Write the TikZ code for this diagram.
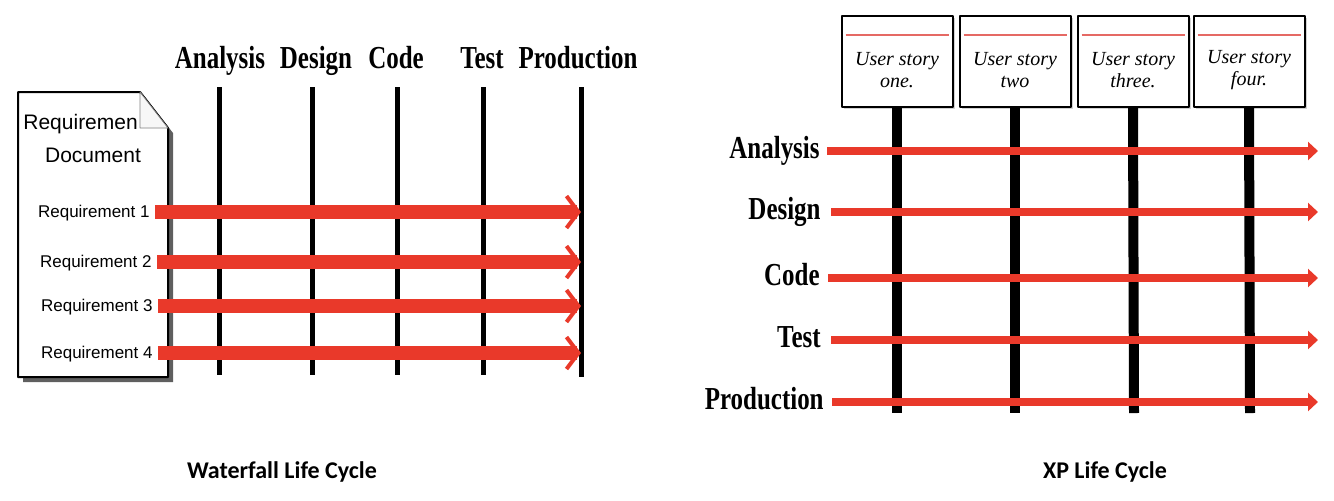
\documentclass[tikz,border=0pt]{standalone}
\usepackage{fontspec}
\usepackage{tikz}
\usetikzlibrary{arrows.meta, calc, shadows}

\newfontfamily\phasefont[FakeStretch=0.78]{Liberation Serif}
\newfontfamily\docfont{Liberation Sans}
\newfontfamily\storyfont{Liberation Serif}
\newfontfamily\capfont{Carlito}

\definecolor{flowred}{RGB}{233,57,42}
\definecolor{cardred}{RGB}{229,105,100}
\definecolor{docshadow}{RGB}{95,95,95}

\tikzset{
  phase/.style={font=\phasefont\bfseries\fontsize{16}{16}\selectfont, inner sep=0pt},
  reqlabel/.style={font=\docfont\fontsize{8.5}{8.5}\selectfont, inner sep=0pt, anchor=base east},
  lane/.style={line width=2.5pt, black},
  pole/.style={line width=5pt, black},
  flow/.style={line width=7pt, flowred, -{Straight Barb[length=6pt,width=16pt,line width=2pt]}},
  xpflow/.style={line width=4pt, flowred, -{Triangle[length=5pt,width=9pt]}},
  storycard/.style={draw, line width=1pt, fill=white, minimum width=55.5pt, minimum height=45.5pt,
    inner sep=0pt, drop shadow={shadow xshift=1pt, shadow yshift=-1pt, fill=gray!70}},
  storytext/.style={font=\storyfont\itshape\fontsize{10}{11}\selectfont, align=center, inner sep=0pt},
  lifecycle/.style={font=\capfont\bfseries\fontsize{12}{12}\selectfont, inner sep=0pt, anchor=base}
}

\begin{document}
\begin{tikzpicture}[line join=round,x=0.5pt,y=-0.5pt]
\useasboundingbox (0,0) rectangle (1334,500);

% ---------- waterfall ----------
\fill[docshadow] (23,97) -- (145,97) -- (173,133) -- (173,382) -- (23,382) -- cycle;
\draw[line width=1pt, fill=white] (18,92) -- (140,92) -- (168,128) -- (168,377) -- (18,377) -- cycle;
\draw[gray, fill=gray!6] (140,92) -- (168,128) -- (140,128) -- cycle;

\node[font=\docfont\fontsize{10.5}{10.5}\selectfont, inner sep=0pt, anchor=base west] (docA) at (23,129) {Requiremen};
\node[font=\docfont\fontsize{10.5}{10.5}\selectfont, inner sep=0pt, anchor=base] (docB) at (93,162) {Document};

\node[phase, anchor=base] (ana) at (220,68) {Analysis};
\node[phase, anchor=base] (des) at (316,68) {Design};
\node[phase, anchor=base] (cod) at (396,68) {Code};
\node[phase, anchor=base] (tst) at (482,68) {Test};
\node[phase, anchor=base] (prd) at (578,68) {Production};

\coordinate (l1a) at (219,87);  \coordinate (l1b) at (219,375);
\coordinate (l2a) at (312,87);  \coordinate (l2b) at (312,375);
\coordinate (l3a) at (397,87);  \coordinate (l3b) at (397,375);
\coordinate (l4a) at (483,87);  \coordinate (l4b) at (483,375);
\coordinate (l5a) at (581,87);  \coordinate (l5b) at (581,377);

\draw[lane] (l1a) -- (l1b);
\draw[lane] (l2a) -- (l2b);
\draw[lane] (l3a) -- (l3b);
\draw[lane] (l4a) -- (l4b);
\draw[lane] (l5a) -- (l5b);

\node[reqlabel] (r1) at (150,217) {Requirement 1};
\node[reqlabel] (r2) at (152,267) {Requirement 2};
\node[reqlabel] (r3) at (153,311) {Requirement 3};
\node[reqlabel] (r4) at (153,358) {Requirement 4};

\coordinate (wtip) at (581,0);
\coordinate (f1) at ($(r1.base east)+(5,-5)$);
\coordinate (f2) at ($(r2.base east)+(5,-5)$);
\coordinate (f3) at ($(r3.base east)+(5,-5)$);
\coordinate (f4) at ($(r4.base east)+(5,-5)$);

\draw[flow] (f1) -- (f1 -| wtip);
\draw[flow] (f2) -- (f2 -| wtip);
\draw[flow] (f3) -- (f3 -| wtip);
\draw[flow] (f4) -- (f4 -| wtip);

\node[lifecycle] (wcap) at (282,478) {Waterfall Life Cycle};

% ---------- XP ----------
\node[storycard] (s1) at (897,61.5) {};
\node[storycard] (s2) at (1015,61.5) {};
\node[storycard] (s3) at (1133,61.5) {};
\node[storycard] (s4) at (1249,61.5) {};

\draw[cardred, line width=1pt] ($(s1.north west)+(5,20)$) -- ($(s1.north east)+(-5,20)$);
\draw[cardred, line width=1pt] ($(s2.north west)+(5,20)$) -- ($(s2.north east)+(-5,20)$);
\draw[cardred, line width=1pt] ($(s3.north west)+(5,20)$) -- ($(s3.north east)+(-5,20)$);
\draw[cardred, line width=1pt] ($(s4.north west)+(5,20)$) -- ($(s4.north east)+(-5,20)$);

\node[storytext] (t1) at (897,70) {User story\\one.};
\node[storytext] (t2) at (1015,70) {User story\\two};
\node[storytext] (t3) at (1133,70) {User story\\three.};
\node[storytext] (t4) at (1249,70) {User story\\four.};

\coordinate (p1) at (897,413);
\coordinate (p2) at (1015,413);
\coordinate (p3) at (1134,413);
\coordinate (p4) at (1250,413);

\draw[pole] (s1.south) -- (p1);
\draw[pole] (s2.south) -- (p2);
\draw[pole] (s3.south) -- (p3);
\draw[pole] (s4.south) -- (p4);

\node[phase, anchor=base east] (xana) at (820,158) {Analysis};
\node[phase, anchor=base east] (xdes) at (821,219) {Design};
\node[phase, anchor=base east] (xcod) at (820,285) {Code};
\node[phase, anchor=base east] (xtst) at (821,347) {Test};
\node[phase, anchor=base east] (xprd) at (824,409) {Production};

\coordinate (xtip) at (1318,0);
\coordinate (g1) at ($(xana.base east)+(7,-7)$);
\coordinate (g2) at ($(xdes.base east)+(10,-7)$);
\coordinate (g3) at ($(xcod.base east)+(8,-7)$);
\coordinate (g4) at ($(xtst.base east)+(10,-7)$);
\coordinate (g5) at ($(xprd.base east)+(8,-7)$);

\draw[xpflow] (g1) -- (g1 -| xtip);
\draw[xpflow] (g2) -- (g2 -| xtip);
\draw[xpflow] (g3) -- (g3 -| xtip);
\draw[xpflow] (g4) -- (g4 -| xtip);
\draw[xpflow] (g5) -- (g5 -| xtip);

\node[lifecycle] (xcap) at (1105,478) {XP Life Cycle};

\end{tikzpicture}
\end{document}
